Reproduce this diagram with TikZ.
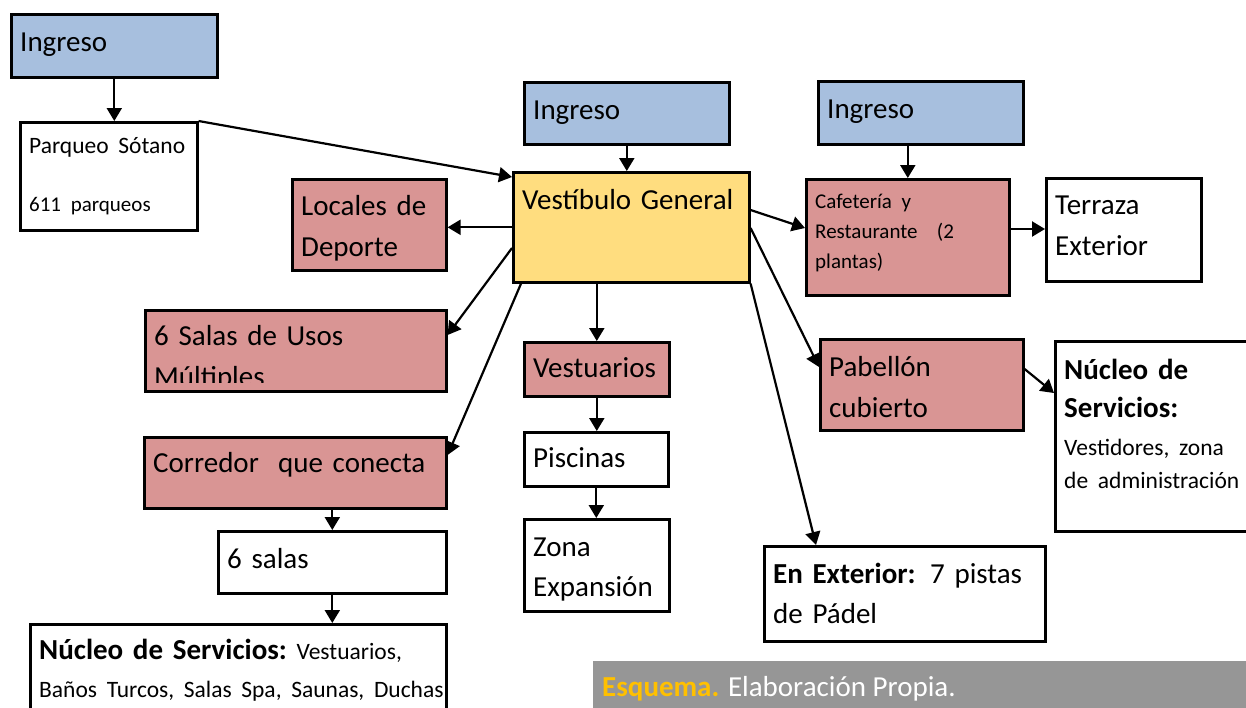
\documentclass[tikz,border=0pt]{standalone}
\usepackage{fontspec}
\setmainfont{Carlito}
\usepackage{tikz}
\usetikzlibrary{arrows.meta,calc}
\usepackage{xcolor}
\definecolor{ingblue}{HTML}{A7BFDE}
\definecolor{salared}{HTML}{D99594}
\definecolor{vestyel}{HTML}{FFDD7F}
\definecolor{capgrey}{HTML}{969696}
\definecolor{capgold}{HTML}{FFC000}
\newcommand{\bigf}{\fontsize{29}{41}\selectfont}
\newcommand{\mdf}{\fontsize{23.5}{33}\selectfont}
\newcommand{\smf}{\fontsize{21}{30}\selectfont}
\tikzstyle{blk}=[rectangle,draw,line width=2.6pt,anchor=north west,inner sep=0]
\tikzstyle{bluebox}=[fill=ingblue]
\tikzstyle{redbox}=[fill=salared]
\tikzstyle{yelbox}=[fill=vestyel]
\tikzstyle{whitebox}=[fill=white]
\tikzstyle{txt}=[anchor=north west,inner sep=0,align=left,font=\bigf]
\tikzstyle{arr}=[-{Triangle[length=13pt,width=15pt]},line width=2.2pt]
\newcommand{\planbox}[7][9.5]{
	\node[blk, #3, minimum width=#5, minimum height=#6] (#2) at #4 {};
	\node[txt, text width=#5] (#2-t) at ([xshift=10pt,yshift=-#1pt]#2.north west) {#7\par};
}

\begin{document}
\begin{tikzpicture}[x=1pt,y=-1pt]
	\useasboundingbox (0,0) rectangle (1246,707);
	\planbox[10]{ing1}{bluebox}{(10,13)}{206}{63}{\strut Ingreso}
	\planbox[9]{parq}{whitebox}{(19,121)}{177}{108}{\mdf\strut Parqueo Sótano\\[28pt]\smf 611 parqueos}
	\planbox{ing2}{bluebox}{(523,81)}{205}{62}{\strut Ingreso}
	\planbox{ing3}{bluebox}{(817,80)}{205}{63}{\strut Ingreso}
	\planbox[10]{vest}{yelbox}{(512,171)}{236}{110}{\strut Vestíbulo General}
	\planbox[9]{loc}{redbox}{(291,178)}{154}{91}{\strut Locales de\\ Deporte}
	\planbox[9]{caf}{redbox}{(805,178)}{203}{116}{\smf\strut Cafetería y\\ Restaurante\ \ (2\\ plantas)}
	\planbox[9]{terr}{whitebox}{(1045,177)}{155}{103}{\strut Terraza\\ Exterior}
	\node[blk, redbox, minimum width=301, minimum height=81] (salas) at (144,309) {};
	\begin{scope}
		\clip (salas.north west) rectangle ([yshift=10pt]salas.south east);
		\node[txt, text width=301] (salas-t) at ([xshift=10pt,yshift=-8pt]salas.north west) {\strut 6 Salas de Usos\\ Múltiples\par};
	\end{scope}
	\planbox[8]{vestu}{redbox}{(523,341)}{145}{54}{\strut Vestuarios}
	\planbox{pab}{redbox}{(819,338)}{203}{91}{\strut Pabellón\\ cubierto}
	\node[blk, whitebox, minimum width=220, minimum height=190] (nuc2) at (1054,340) {};
	\node[txt, text width=190] (nuc2-t) at ([xshift=10pt,yshift=-13pt]nuc2.north west)
		{{\fontsize{29}{38}\selectfont\bfseries\strut Núcleo de\\ Servicios:\par}\vspace{5pt}{\mdf Vestidores, zona\\ de administración\par}};
	\planbox[8]{corr}{redbox}{(143,436)}{302}{71}{\strut Corredor\ \ que conecta}
	\planbox[8]{pisc}{whitebox}{(523,431)}{144}{54}{\strut Piscinas}
	\planbox{sal6}{whitebox}{(217,530)}{228}{62}{\strut 6 salas}
	\planbox{zona}{whitebox}{(523,518)}{145}{92}{\strut Zona\\[-1pt] Expansión}
	\planbox{ext}{whitebox}{(763,545)}{281}{95}{\strut\textbf{En Exterior:} 7 pistas\\[-1pt] de Pádel}
	\node[blk, whitebox, minimum width=416, minimum height=100] (nuc1) at (29,623) {};
	\node[txt, text width=416] (nuc1-t) at ([xshift=10pt,yshift=-10pt]nuc1.north west)
		{\fontsize{29}{38}\selectfont\strut\textbf{Núcleo de Servicios:}\mdf\ Vestuarios,\\[5pt] Baños Turcos, Salas Spa, Saunas, Duchas\par};
	\node[rectangle, fill=capgrey, anchor=north west, inner sep=0, minimum width=660, minimum height=50] (cap) at (593,661) {};
	\node[anchor=base west, inner sep=0, font=\bigf] (cap-t) at ([xshift=9pt,yshift=-35pt]cap.north west)
		{\textcolor{capgold}{\textbf{Esquema.}} \textcolor{white}{Elaboración Propia.}};
	\draw[arr] (ing1.south) -- (ing1.south |- parq.north);
	\draw[arr] (parq.north east) -- ([yshift=-6pt]vest.north west);
	\draw[arr] (ing2.south) -- (ing2.south |- vest.north);
	\draw[arr] (caf.north |- ing3.south) -- (caf.north);
	\draw[arr] (vest.west) -- (vest.west -| loc.east);
	\draw[arr] ([yshift=-77pt]vest.north west) -- ([yshift=-26pt]salas.north east);
	\draw[arr] ([xshift=9pt]vest.south west) -- ([yshift=-19pt]corr.north east);
	\draw[arr] (vestu.north |- vest.south) -- (vestu.north);
	\draw[arr] (vestu.south) -- (vestu.south |- pisc.north);
	\draw[arr] (pisc.south) -- (pisc.south |- zona.north);
	\draw[arr] ([yshift=-39pt]vest.north east) -- ([yshift=-50pt]caf.north west);
	\draw[arr] ([yshift=-51pt]caf.north east) -- ([yshift=-51pt]caf.north east -| terr.west);
	\draw[arr] ([yshift=-57pt]vest.north east) -- ([yshift=-29pt]pab.north west);
	\draw[arr] (vest.south east) -- ([xshift=53pt]ext.north west);
	\draw[arr] ([yshift=-31pt]pab.north east) -- ([yshift=-53pt]nuc2.north west);
	\draw[arr] (sal6.north |- corr.south) -- (sal6.north);
	\draw[arr] (sal6.south) -- (sal6.south |- nuc1.north);
\end{tikzpicture}
\end{document}
